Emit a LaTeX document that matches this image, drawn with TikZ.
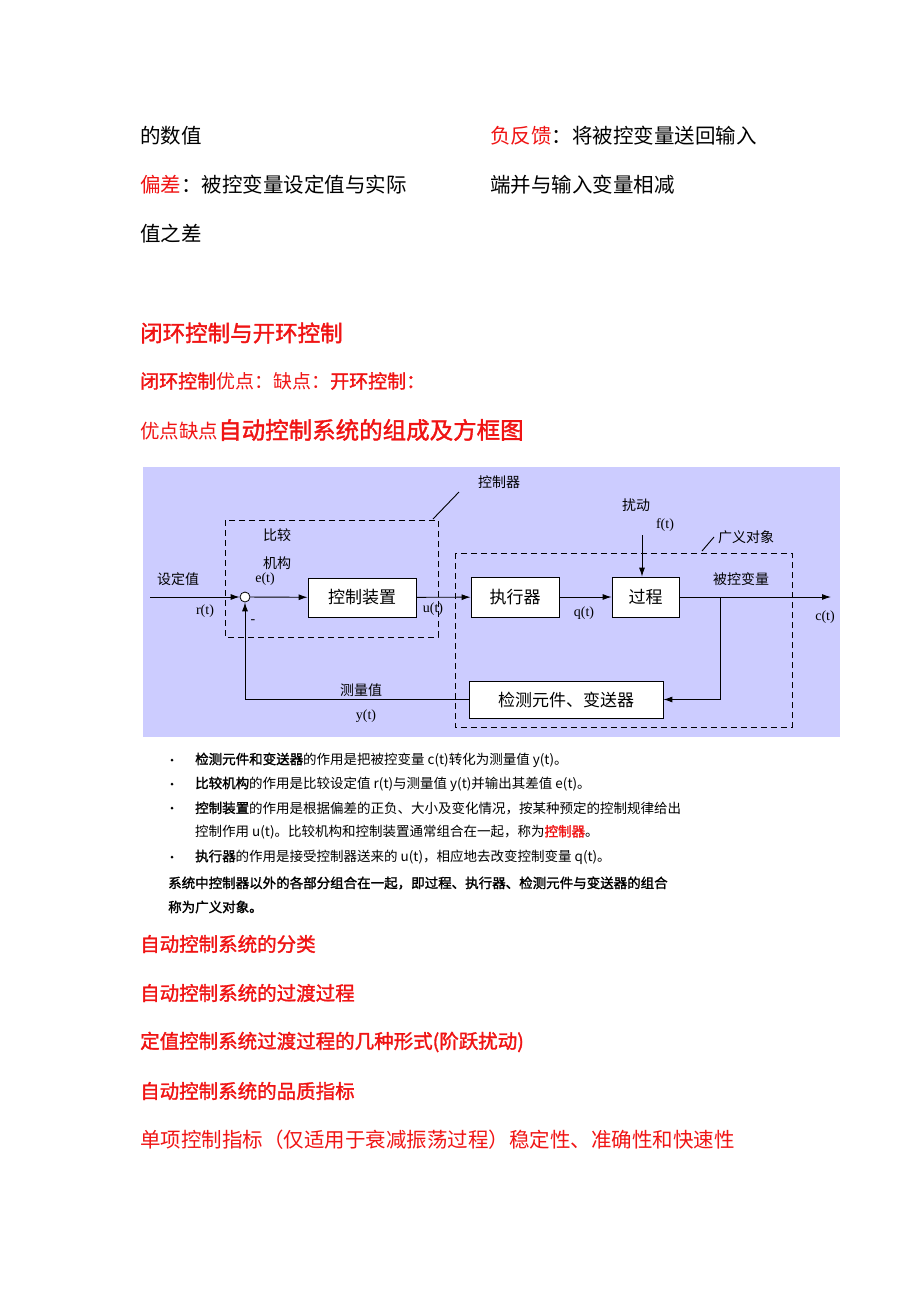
\documentclass[tikz,border=0pt]{standalone}
\usepackage{fontspec}
\setmainfont{Noto Sans CJK SC}[AutoFakeBold=1.6]
\newfontfamily\lat{Liberation Serif}
\usetikzlibrary{arrows.meta}
\definecolor{red1}{RGB}{240,20,20}
\definecolor{bgc}{RGB}{204,204,255}
\tikzset{
  txt/.style={anchor=west,inner sep=0pt},
  blk/.style={draw,fill=white,line width=0.8pt,inner sep=0pt,font=\fontsize{17}{17}\selectfont},
  lab/.style={inner sep=0pt,font=\fontsize{14}{14}\selectfont},
  lt/.style={inner sep=0pt,font=\lat\fontsize{14}{14}\selectfont},
  dsh/.style={dashed,line width=1pt,dash pattern=on 6pt off 4pt},
  ar/.style={-{Latex[length=9pt,width=6pt]},line width=0.9pt},
  ln/.style={line width=0.9pt},
  bul/.style={txt,font=\fontsize{13.5}{13.5}\selectfont}
}
\begin{document}
\begin{tikzpicture}[x=1pt,y=-1pt]
\useasboundingbox (0,0) rectangle (920,1302);
\fill[white] (0,0) rectangle (920,1302);
% top text
\node[txt,font=\fontsize{20.5}{20}\selectfont] (t1) at (140,136) {的数值};
\node[txt,font=\fontsize{20.5}{20}\selectfont] (t2) at (490,136) {\textcolor{red1}{负反馈}：将被控变量送回输入};
\node[txt,font=\fontsize{20.5}{20}\selectfont] (t3) at (140,185) {\textcolor{red1}{偏差}：被控变量设定值与实际};
\node[txt,font=\fontsize{20.5}{20}\selectfont] (t4) at (490,185) {端并与输入变量相减};
\node[txt,font=\fontsize{20.5}{20}\selectfont] (t5) at (140,234) {值之差};
\node[txt,font=\bfseries\fontsize{22.5}{22}\selectfont,text=red1] (h1) at (140,333) {闭环控制与开环控制};
\node[txt,font=\fontsize{19}{19}\selectfont,text=red1] (h2) at (140,381) {\textbf{闭环控制}优点：缺点：\textbf{开环控制：}};
\node[txt,text=red1] (h3) at (140,430) {\fontsize{19.5}{20}\selectfont 优点缺点\fontsize{23.5}{24}\selectfont\bfseries 自动控制系统的组成及方框图};
% diagram
\fill[bgc] (143,467) rectangle (840,737);
\draw[dsh] (225,520) rectangle (438,637);
\draw[dsh] (455,553) rectangle (792,727);
\node[lab] (kzq) at (499,482) {控制器};
\coordinate (s1a) at (459,492); \coordinate (s1b) at (433,519);
\draw[ln] (s1a) -- (s1b);
\node[lab] (gy) at (746,537) {广义对象};
\coordinate (s2a) at (714,537); \coordinate (s2b) at (702,551);
\draw[ln] (s2a) -- (s2b);
\node[lab] (bj1) at (277,535) {比较};
\node[lab] (bj2) at (277,563) {机构};
\node[lab] (sdz) at (178,579) {设定值};
\node[lt] (et) at (265,579) {e(t)};
\node[lt] (rt) at (205,611) {r(t)};
\node[lt] (minus) at (253,622) {-};
\node[draw,circle,fill=white,minimum size=10pt,inner sep=0pt,line width=0.8pt] (sum) at (245,597) {};
\node[blk,minimum width=108pt,minimum height=39pt] (kzzz) at (362,597.5) {控制装置};
\node[lt] (ut) at (433,609) {u(t)};
\node[blk,minimum width=88pt,minimum height=40pt] (zxq) at (515,597) {执行器};
\node[lt] (qt) at (584,613) {q(t)};
\node[blk,minimum width=67pt,minimum height=40pt] (gc) at (645.5,597) {过程};
\node[lab] (rd) at (636,505) {扰动};
\node[lt] (ft) at (665,525) {f(t)};
\coordinate (fin) at (642,535);
\node[lab] (bkbl) at (741,579) {被控变量};
\node[lt] (ct) at (825,617) {c(t)};
\node[blk,minimum width=194pt,minimum height=37pt] (jc) at (566,699.5) {检测元件、变送器};
\node[lab] (clz) at (361,690) {测量值};
\node[lt] (yt) at (366,716) {y(t)};
\coordinate (in) at (150,597);
\coordinate (out) at (831,597);
\coordinate (br) at (720,597);
\draw[ar] (in) -- (sum);
\draw[ar] (sum) -- (kzzz);
\draw[ar] (kzzz) -- (zxq);
\draw[ar] (zxq) -- (gc);
\draw[ar] (fin) -- (gc.north -| fin);
\draw[ar] (gc) -- (out);
\draw[ar] (br) |- (jc.east);
\draw[ar] (jc.west) -| (sum.south);
% bullets
\node[bul] (b1) at (195,760) {\textbf{检测元件和变送器}的作用是把被控变量 c(t)转化为测量值 y(t)。};
\node[bul] (b2) at (195,784) {\textbf{比较机构}的作用是比较设定值 r(t)与测量值 y(t)并输出其差值 e(t)。};
\node[bul] (b3) at (195,808) {\textbf{控制装置}的作用是根据偏差的正负、大小及变化情况，按某种预定的控制规律给出};
\node[bul] (b4) at (195,832) {控制作用 u(t)。比较机构和控制装置通常组合在一起，称为\textcolor{red1}{\textbf{控制器}}。};
\node[bul] (b5) at (195,857) {\textbf{执行器}的作用是接受控制器送来的 u(t)，相应地去改变控制变量 q(t)。};
\foreach \yy in {760,784,808,857} \fill (172,\yy) circle (1.5pt);
\node[bul,font=\bfseries\fontsize{13.5}{13.5}\selectfont] (p1) at (168,883) {系统中控制器以外的各部分组合在一起，即过程、执行器、检测元件与变送器的组合};
\node[bul,font=\bfseries\fontsize{13.5}{13.5}\selectfont] (p2) at (168,907) {称为广义对象。};
% headings
\node[txt,font=\bfseries\fontsize{19.5}{20}\selectfont,text=red1] (g1) at (140,944) {自动控制系统的分类};
\node[txt,font=\bfseries\fontsize{19.5}{20}\selectfont,text=red1] (g2) at (140,993) {自动控制系统的过渡过程};
\node[txt,font=\bfseries\fontsize{19.5}{20}\selectfont,text=red1] (g3) at (140,1042) {定值控制系统过渡过程的几种形式(阶跃扰动)};
\node[txt,font=\bfseries\fontsize{19.5}{20}\selectfont,text=red1] (g4) at (140,1091) {自动控制系统的品质指标};
\node[txt,font=\fontsize{20.5}{20}\selectfont,text=red1] (g5) at (140,1140) {单项控制指标（仅适用于衰减振荡过程）稳定性、准确性和快速性};
\end{tikzpicture}
\end{document}
